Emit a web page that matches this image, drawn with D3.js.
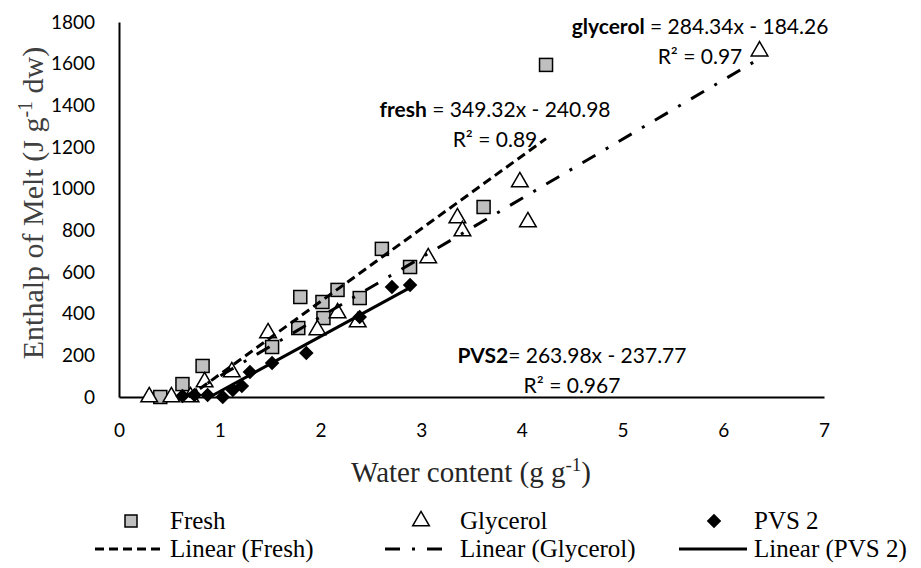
<!DOCTYPE html>
<html>
<head>
<meta charset="utf-8">
<script src="https://cdn.jsdelivr.net/npm/d3@7"></script>
<style>
  body { margin: 0; background: #fff; }
  svg { display: block; }
</style>
</head>
<body>
<div id="chart"></div>
<script>
// values
var freshX = [0.41, 0.63, 0.83, 1.52, 1.78, 1.80, 2.02, 2.03, 2.17, 2.39, 2.61, 2.89, 3.62, 4.24];
var freshY = [0, 62, 149, 240, 331, 480, 456, 379, 514, 475, 711, 624, 912, 1594];
var glycerolX = [0.30, 0.52, 0.71, 0.85, 1.12, 1.48, 1.97, 2.17, 2.37, 3.07, 3.36, 3.41, 3.98, 4.06, 6.36];
var glycerolY = [0, 0, 0, 72, 120, 307, 322, 403, 360, 667, 859, 797, 1032, 840, 1660];
var pvsX = [0.63, 0.75, 0.88, 1.03, 1.13, 1.22, 1.30, 1.52, 1.86, 2.39, 2.71, 2.89];
var pvsY = [5, 10, 10, 0, 34, 53, 120, 163, 211, 384, 528, 538];

// trendline slope / intercept, as printed on the chart
var freshFit = [349.32, -240.98];
var glycerolFit = [284.34, -184.26];
var pvsFit = [263.98, -237.77];

var xTicks = [0, 1, 2, 3, 4, 5, 6, 7];
var yTicks = [0, 200, 400, 600, 800, 1000, 1200, 1400, 1600, 1800];

var width = 921, height = 568;
var numFont = "Lato, 'Open Sans', sans-serif";
var serifFont = "'Liberation Serif', 'DejaVu Serif', serif";

var svg = d3.select("#chart").append("svg")
	.attr("width", width).attr("height", height);

var x = d3.scaleLinear().domain([0, 7]).range([119, 824]);
var y = d3.scaleLinear().domain([0, 1800]).range([397, 22]);

// axes (no tick marks, just the line and labels)
var xAxis = svg.append("g").attr("transform", "translate(0," + y(0) + ")")
	.call(d3.axisBottom(x).tickValues(xTicks).tickFormat(d3.format("d"))
		.tickSize(0).tickSizeOuter(0).tickPadding(27));
var yAxis = svg.append("g").attr("transform", "translate(" + x(0) + ",0)")
	.call(d3.axisLeft(y).tickValues(yTicks).tickFormat(d3.format("d"))
		.tickSize(0).tickSizeOuter(0).tickPadding(24));
[xAxis, yAxis].forEach(function(a) {
	a.select(".domain").attr("stroke", "#000").attr("stroke-width", 2);
	a.selectAll("text").attr("font-family", numFont).attr("font-size", "19px").attr("fill", "#000");
});

// markers
function series(xs, ys) {
	return xs.map(function(v, i) { return [v, ys[i]]; });
}
var sqSize = 13;
svg.append("g").selectAll("rect").data(series(freshX, freshY)).enter().append("rect")
	.attr("x", function(d) { return x(d[0]) - sqSize / 2; })
	.attr("y", function(d) { return y(d[1]) - sqSize / 2; })
	.attr("width", sqSize).attr("height", sqSize)
	.attr("fill", "#bfbfbf").attr("stroke", "#000").attr("stroke-width", 1.5);

var triangle = d3.symbol().type(d3.symbolTriangle).size(120);
svg.append("g").selectAll("path").data(series(glycerolX, glycerolY)).enter().append("path")
	.attr("d", triangle)
	.attr("transform", function(d) { return "translate(" + x(d[0]) + "," + y(d[1]) + ")"; })
	.attr("fill", "#fff").attr("stroke", "#000").attr("stroke-width", 1.5);

var diamond = d3.symbol().type(d3.symbolDiamond2).size(135);
svg.append("g").selectAll("path").data(series(pvsX, pvsY)).enter().append("path")
	.attr("d", diamond)
	.attr("transform", function(d) { return "translate(" + x(d[0]) + "," + y(d[1]) + ")"; })
	.attr("fill", "#000");

// trendlines, clipped at y = 0 like the spreadsheet does
function trend(fit, xs) {
	var x0 = Math.max(d3.min(xs), -fit[1] / fit[0]);
	var x1 = d3.max(xs);
	return [[x0, fit[0] * x0 + fit[1]], [x1, fit[0] * x1 + fit[1]]];
}
var line = d3.line().x(function(d) { return x(d[0]); }).y(function(d) { return y(d[1]); });
var trends = [
	{ pts: trend(freshFit, freshX), dash: "9,5" },
	{ pts: trend(glycerolFit, glycerolX), dash: "15,12,3,12" },
	{ pts: trend(pvsFit, pvsX), dash: null }
];
trends.forEach(function(t) {
	svg.append("path").attr("d", line(t.pts)).attr("fill", "none")
		.attr("stroke", "#000").attr("stroke-width", 3)
		.attr("stroke-dasharray", t.dash);
});

// equation labels (centred two-line boxes)
function eqLabel(cx, by, name, rest, r2) {
	var t = svg.append("text").attr("x", cx).attr("y", by).attr("text-anchor", "middle")
		.attr("font-family", numFont).attr("font-size", "21px").attr("fill", "#000");
	t.append("tspan").attr("font-weight", "bold").text(name);
	t.append("tspan").text(rest);
	svg.append("text").attr("x", cx).attr("y", by + 30).attr("text-anchor", "middle")
		.attr("font-family", numFont).attr("font-size", "21px").attr("fill", "#000")
		.text("R\u00b2 = " + r2);
}
eqLabel(495, 117, "fresh", " = 349.32x - 240.98", "0.89");
eqLabel(700, 34, "glycerol", " = 284.34x - 184.26", "0.97");
eqLabel(572, 363, "PVS2", "= 263.98x - 237.77", "0.967");

// axis titles
var xt = svg.append("text").attr("x", 471).attr("y", 482).attr("text-anchor", "middle")
	.attr("font-family", serifFont).attr("font-size", "29px").attr("fill", "#262626");
xt.append("tspan").text("Water content (g g");
xt.append("tspan").attr("font-size", "19px").attr("dy", -11).text("-1");
xt.append("tspan").attr("dy", 11).text(")");

var yt = svg.append("text").attr("transform", "translate(43,203) rotate(-90)")
	.attr("text-anchor", "middle")
	.attr("font-family", serifFont).attr("font-size", "30px").attr("fill", "#404040");
yt.append("tspan").text("Enthalp of Melt (J g");
yt.append("tspan").attr("font-size", "20px").attr("dy", -11).text("-1");
yt.append("tspan").attr("dy", 11).text(" dw)");

// legend
var legendNames = ["Fresh", "Glycerol", "PVS 2"];
var legendMark = [131, 421, 714];
var legendLine = [130, 415, 713];
var legendHalf = [35, 30, 34];
var legendText = [170, 460, 754];
var legendRow1 = 521, legendRow2 = 549;
var leg = svg.append("g");
leg.append("rect").attr("x", legendMark[0] - 6).attr("y", legendRow1 - 6)
	.attr("width", 12).attr("height", 12)
	.attr("fill", "#bfbfbf").attr("stroke", "#000").attr("stroke-width", 1.5);
leg.append("path").attr("d", triangle).attr("transform", "translate(" + legendMark[1] + "," + legendRow1 + ")")
	.attr("fill", "#fff").attr("stroke", "#000").attr("stroke-width", 1.5);
leg.append("path").attr("d", diamond).attr("transform", "translate(" + legendMark[2] + "," + legendRow1 + ")")
	.attr("fill", "#000");
trends.forEach(function(t, i) {
	leg.append("line").attr("x1", legendLine[i] - legendHalf[i]).attr("x2", legendLine[i] + legendHalf[i])
		.attr("y1", legendRow2).attr("y2", legendRow2)
		.attr("stroke", "#000").attr("stroke-width", 3)
		.attr("stroke-dasharray", t.dash);
});
legendNames.forEach(function(n, i) {
	leg.append("text").attr("x", legendText[i]).attr("y", legendRow1 + 8)
		.attr("font-family", serifFont).attr("font-size", "25px").attr("fill", "#000").text(n);
	leg.append("text").attr("x", legendText[i]).attr("y", legendRow2 + 8)
		.attr("font-family", serifFont).attr("font-size", "25px").attr("fill", "#000")
		.text("Linear (" + n + ")");
});
</script>
</body>
</html>
